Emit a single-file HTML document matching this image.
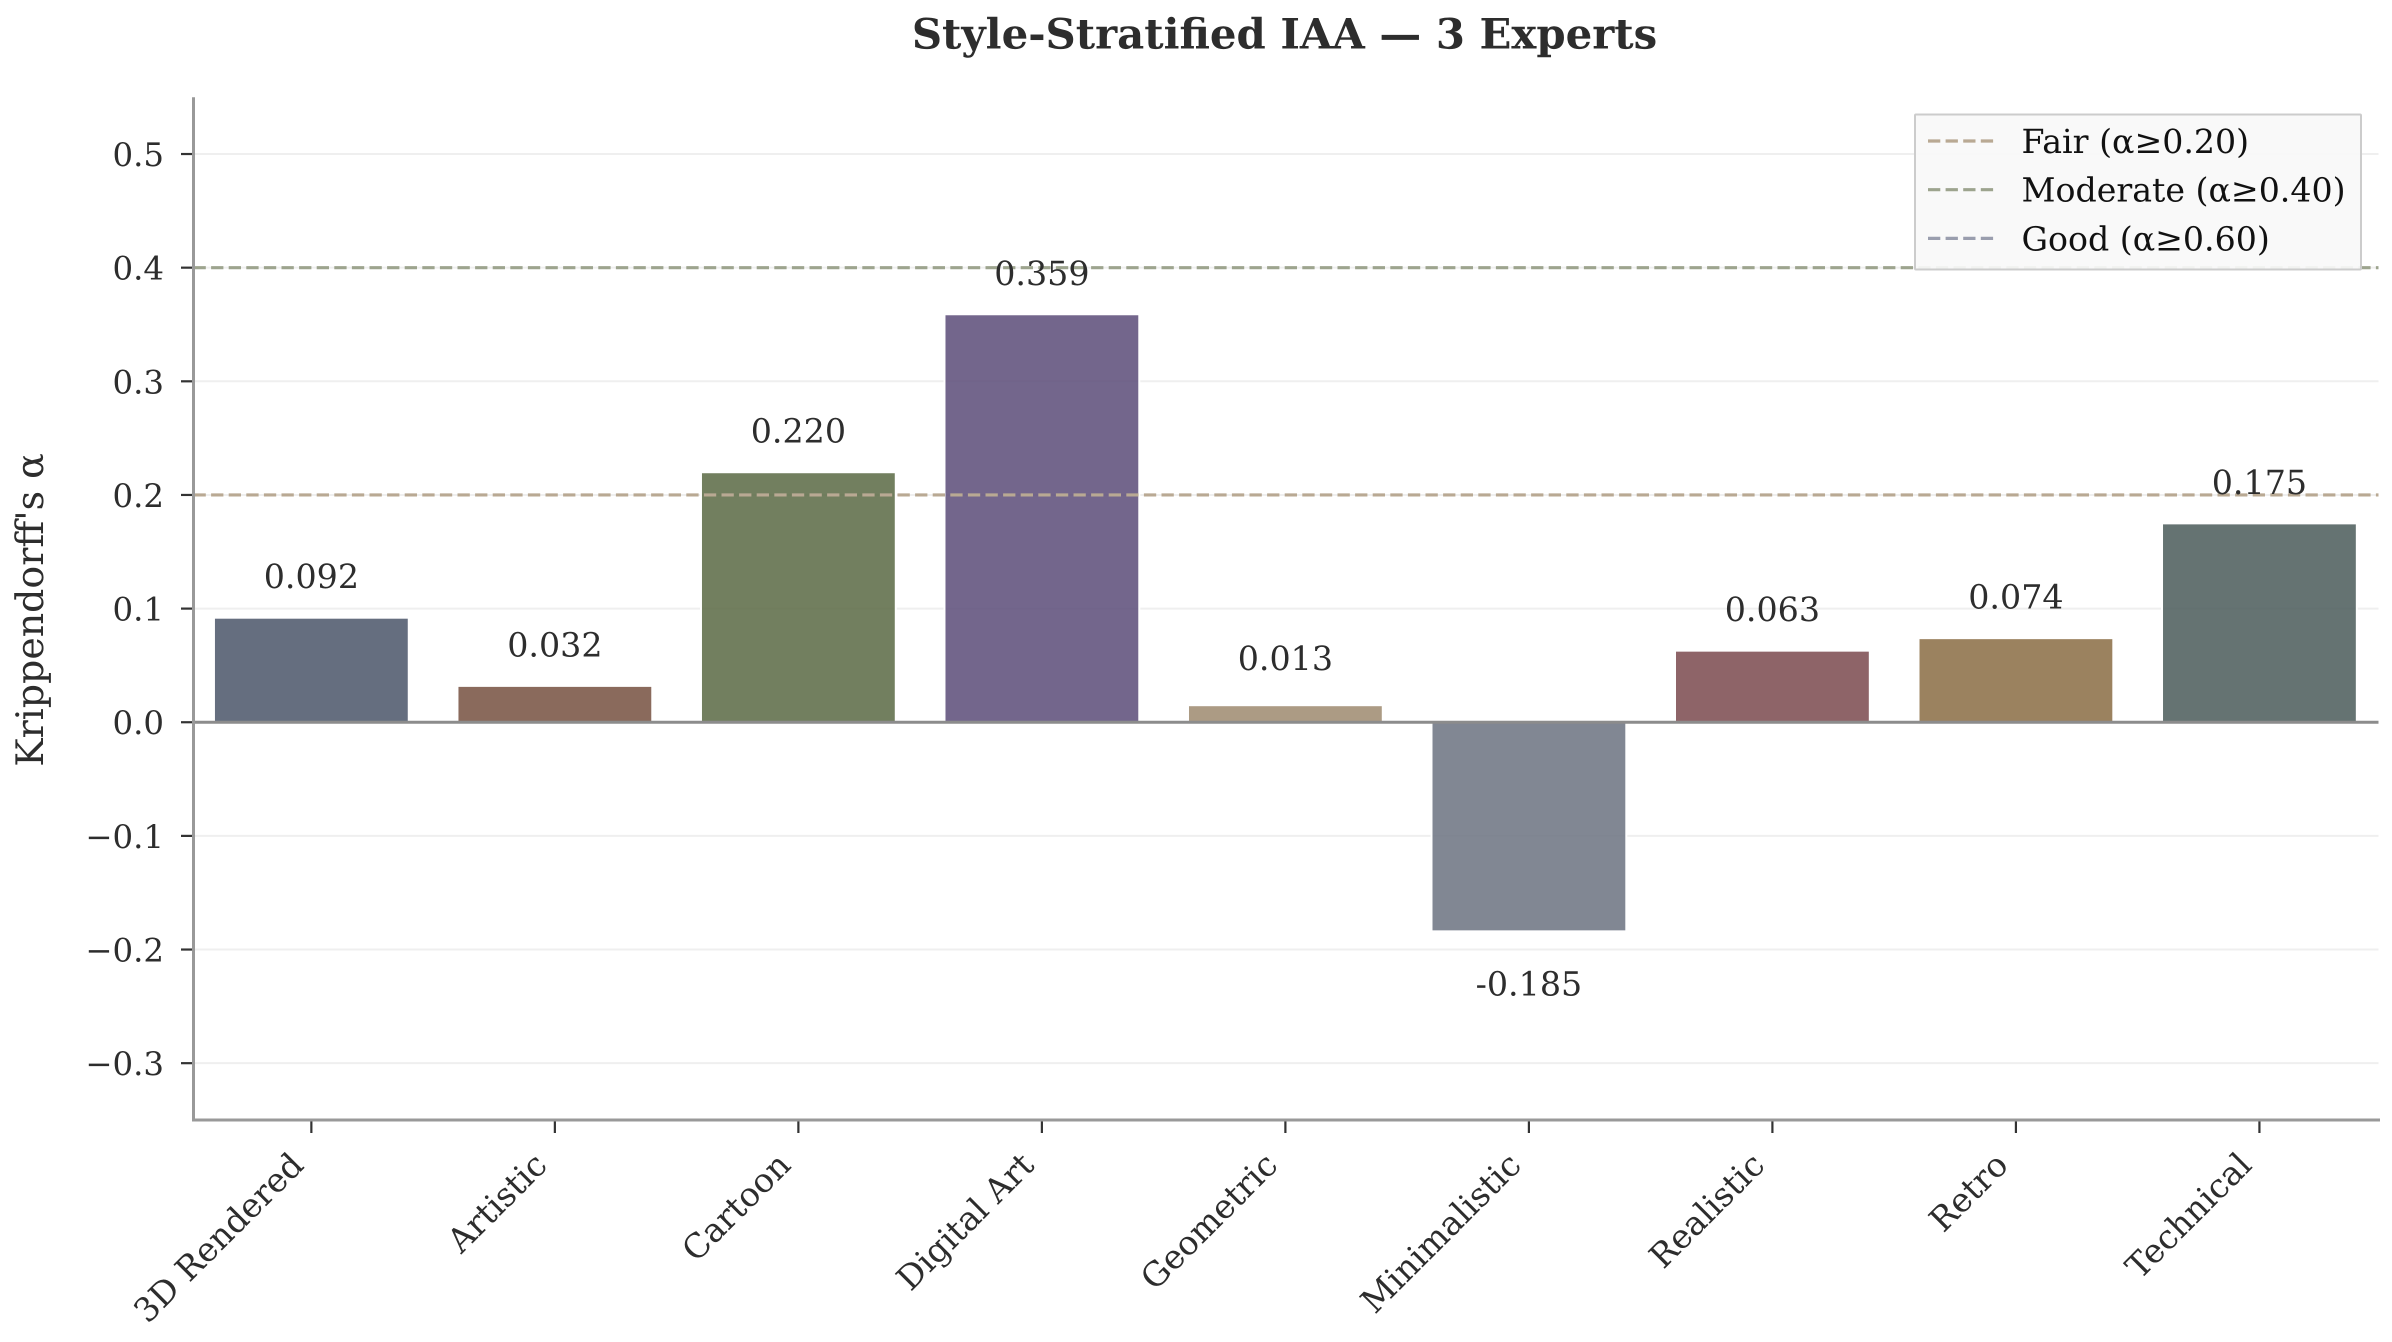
<!DOCTYPE html>
<html lang="en">
<head>
<meta charset="utf-8">
<title>Style-Stratified IAA — 3 Experts</title>
<style>
html,body{margin:0;padding:0;background:#fff;}
svg{display:block;}
text{font-family:"DejaVu Serif","Liberation Serif",serif;text-rendering:geometricPrecision;fill:#2d2d2d;}
</style>
</head>
<body>
<svg id="chart" xmlns="http://www.w3.org/2000/svg" width="2392" height="1342" viewBox="0 0 2392 1342"></svg>
<script>
const categories = ["3D Rendered","Artistic","Cartoon","Digital Art","Geometric","Minimalistic","Realistic","Retro","Technical"];
const alphaValues = [0.092,0.032,0.220,0.359,0.015,-0.184,0.063,0.074,0.175];
const printedValues = ["0.092","0.032","0.220","0.359","0.013","-0.185","0.063","0.074","0.175"];
const barColors = ["#4A5568","#755040","#596943","#5A4B78","#9E896F","#6B7280","#7A494E","#8A6C43","#4A5A59"];
const yTicks = [-0.3,-0.2,-0.1,0.0,0.1,0.2,0.3,0.4,0.5];
const thresholdValues = [0.2,0.4,0.6];
const thresholdLabels = ["Fair (α≥0.20)","Moderate (α≥0.40)","Good (α≥0.60)"];
const thresholdColors = ["#b9a993","#9da48e","#9a9eae"];

const SVG_NS = "http://www.w3.org/2000/svg";
const svg = document.getElementById("chart");
const plot = {left:193.5,right:2378.5,top:97.2,bottom:1120};
const yDomain = [-0.35,0.55];
const xDomain = [-0.484,8.489];
const barWidth = 0.8;

function xScale(i){
  return plot.left + (i - xDomain[0]) / (xDomain[1] - xDomain[0]) * (plot.right - plot.left);
}
function yScale(v){
  return plot.bottom - (v - yDomain[0]) / (yDomain[1] - yDomain[0]) * (plot.bottom - plot.top);
}
function make(tag, attrs, content){
  const el = document.createElementNS(SVG_NS, tag);
  for (const k in attrs) el.setAttribute(k, attrs[k]);
  if (content !== undefined) el.textContent = content;
  svg.appendChild(el);
  return el;
}
function formatTick(v){
  const s = Math.abs(v).toFixed(1);
  return v < 0 ? "\u2212" + s : s;
}

// grid lines
yTicks.forEach(function(v){
  const grid = make("line",{x1:plot.left,x2:plot.right,y1:yScale(v),y2:yScale(v),stroke:"#efefef","stroke-width":2});
  
  
});

// bars
alphaValues.forEach(function(v,i){
  const cx = xScale(i);
  const w = xScale(barWidth) - xScale(0);
  const yTop = yScale(Math.max(v,0));
  const yBot = yScale(Math.min(v,0));
  const bar = make("rect",{x:cx-w/2,y:yTop,width:w,height:yBot-yTop,fill:barColors[i],"fill-opacity":0.85,stroke:"#ffffff","stroke-width":2});
  
  
});

// threshold lines
thresholdValues.forEach(function(v,i){
  if (v > yDomain[1]) return;
  const line = make("line",{x1:plot.left,x2:plot.right,y1:yScale(v),y2:yScale(v),stroke:thresholdColors[i],"stroke-width":3.2,"stroke-dasharray":"12.3 5.3"});
  
  
});

// zero line
const zeroLine = make("line",{x1:plot.left,x2:plot.right,y1:yScale(0),y2:yScale(0),stroke:"#8c8c8c","stroke-width":3});



// value labels
alphaValues.forEach(function(v,i){
  const lift = Math.abs(v) < 0.02 ? 35 : 29.5;
  const y = v >= 0 ? yScale(v) - lift : yScale(v) + 64;
  const label = make("text",{x:xScale(i),y:y,"text-anchor":"middle","font-size":33.3},printedValues[i]);
  
  
});

// y axis ticks and labels
yTicks.forEach(function(v){
  const tick = make("line",{x1:181,x2:plot.left,y1:yScale(v),y2:yScale(v),stroke:"#333333","stroke-width":2.2});
  
  
  const label = make("text",{x:164,y:yScale(v)+12,"text-anchor":"end","font-size":32.4},formatTick(v));
  
  
});

// x axis ticks and labels
categories.forEach(function(c,i){
  const x = xScale(i);
  const tick = make("line",{x1:x,x2:x,y1:plot.bottom,y2:1133,stroke:"#333333","stroke-width":2.2});
  
  
  const ax = x - 6, ay = 1167;
  const label = make("text",{x:ax,y:ay,"text-anchor":"end","font-size":33.3,transform:"rotate(-45 "+ax+" "+ay+")"},c);
  
  
});

// spines
const spineLeft = make("line",{x1:plot.left,x2:plot.left,y1:plot.top,y2:plot.bottom+1.5,stroke:"#999999","stroke-width":3});


const spineBottom = make("line",{x1:plot.left-1.5,x2:plot.right+1.5,y1:plot.bottom,y2:plot.bottom,stroke:"#999999","stroke-width":3});



// title and axis title
const title = make("text",{x:1284.5,y:48.5,"text-anchor":"middle","font-size":41.85,"font-weight":"bold"},"Style-Stratified IAA — 3 Experts");


const yTitle = make("text",{x:43,y:610,"text-anchor":"middle","font-size":37.9,transform:"rotate(-90 43 610)"},"Krippendorff's α");



// legend
const legendBox = make("rect",{x:1915,y:114.5,width:446,height:155,fill:"#f9f9f9","fill-opacity":0.92,stroke:"#cccccc","stroke-width":2,rx:1});


thresholdLabels.forEach(function(t,i){
  const y = 141 + i * 48.7;
  const key = make("line",{x1:1928,x2:1994,y1:y,y2:y,stroke:thresholdColors[i],"stroke-width":3.2,"stroke-dasharray":"12.3 5.3"});
  
  
  const label = make("text",{x:2021.5,y:y+12,"font-size":33.2,style:"fill:#111"},t);
  
  
});
</script>
</body>
</html>
